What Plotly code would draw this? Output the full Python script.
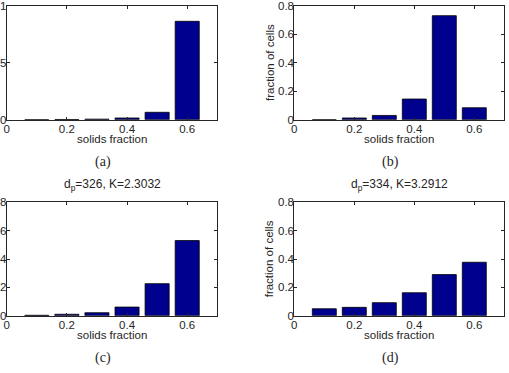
import plotly.graph_objects as go

W, H = 509, 373

centers = [0.1, 0.2, 0.3, 0.4, 0.5, 0.6]
vals_a = [0.0, 0.002, 0.005, 0.015, 0.065, 0.863]
vals_b = [0.0, 0.012, 0.03, 0.145, 0.730, 0.084]
vals_c = [0.003, 0.01, 0.021, 0.061, 0.226, 0.53]
vals_d = [0.049, 0.059, 0.092, 0.162, 0.29, 0.377]

titles = ["", "", "d<sub>p</sub>=326, K=2.3032", "d<sub>p</sub>=334, K=3.2912"]
captions = ["(a)", "(b)", "(c)", "(d)"]
ymax = [1.0, 0.8, 0.8, 0.8]
ytickvals = [[0, 0.5, 1], [0, 0.2, 0.4, 0.6, 0.8], [0, 0.2, 0.4, 0.6, 0.8], [0, 0.2, 0.4, 0.6, 0.8]]
yticktext = [["0", "0.5", "1"], ["0", "0.2", "0.4", "0.6", "0.8"], ["0", "0.2", "0.4", "0.6", "0.8"], ["0", "0.2", "0.4", "0.6", "0.8"]]
xtickvals = [0, 0.2, 0.4, 0.6]
xticktext = ["0", "0.2", "0.4", "0.6"]
show_ylabel = [False, True, False, True]

# pixel boxes (left, right, top, bottom)
boxes = [
    (6.7, 217.3, 5.7, 119.7),
    (294.3, 504.3, 5.7, 119.7),
    (6.7, 217.3, 202.3, 315.7),
    (294.3, 504.3, 202.3, 315.7),
]

FONT = "Liberation Sans, Arial, sans-serif"
BAR = "#00008F"
TXT = "#262626"
FS = 11.5

fig = go.Figure()
layout = dict(
    width=W, height=H, margin=dict(l=0, r=0, t=0, b=0, autoexpand=False),
    paper_bgcolor="white", plot_bgcolor="white", showlegend=False,
    font=dict(family=FONT, size=FS, color=TXT),
    bargap=0.2,
)
annotations = []
for i, vals in enumerate([vals_a, vals_b, vals_c, vals_d]):
    xa = "x" if i == 0 else f"x{i+1}"
    ya = "y" if i == 0 else f"y{i+1}"
    fig.add_trace(go.Bar(x=centers, y=vals, xaxis=xa, yaxis=ya, width=0.08,
                         marker=dict(color=BAR, line=dict(color="#000000", width=0.8))))
    l, r, t, b = boxes[i]
    xk = "xaxis" if i == 0 else f"xaxis{i+1}"
    yk = "yaxis" if i == 0 else f"yaxis{i+1}"
    common = dict(ticks="inside", ticklen=3, tickcolor=TXT, showline=True, linecolor=TXT,
                  linewidth=1, mirror="allticks", showgrid=False, zeroline=False,
                  automargin=False, fixedrange=True, ticklabeloverflow="allow",
                  tickfont=dict(size=FS, family=FONT, color=TXT))
    layout[xk] = dict(domain=[l / W, r / W], range=[0, 0.7], anchor=ya,
                      tickvals=xtickvals, ticktext=xticktext, ticklabelstandoff=-2, **common)
    layout[yk] = dict(domain=[1 - b / H, 1 - t / H], range=[0, ymax[i]], anchor=xa,
                      tickvals=ytickvals[i], ticktext=yticktext[i], ticklabelstandoff=-3, **common)
    cx = (l + r) / 2
    annotations.append(dict(text="solids fraction", x=cx / W, y=1 - (b + 19) / H, xref="paper", yref="paper",
                            xanchor="center", yanchor="middle", showarrow=False,
                            font=dict(size=11.5, family=FONT, color=TXT)))
    annotations.append(dict(text=captions[i], x=(cx - 9) / W, y=1 - (b + 42) / H, xref="paper", yref="paper",
                            xanchor="center", yanchor="middle", showarrow=False,
                            font=dict(size=14, family="Liberation Serif, DejaVu Serif, serif", color=TXT)))
    if titles[i]:
        annotations.append(dict(text=titles[i], x=cx / W, y=1 - (t - 17) / H, xref="paper", yref="paper",
                                xanchor="center", yanchor="middle", showarrow=False,
                                font=dict(size=12, family=FONT, color=TXT)))
    if show_ylabel[i]:
        annotations.append(dict(text="fraction of cells", x=(l - 25) / W, y=1 - ((t + b) / 2) / H,
                                xref="paper", yref="paper", xanchor="center", yanchor="middle",
                                textangle=-90, showarrow=False,
                                font=dict(size=11.5, family=FONT, color=TXT)))
layout["annotations"] = annotations
fig.update_layout(**layout)
fig.write_html("out.html")
